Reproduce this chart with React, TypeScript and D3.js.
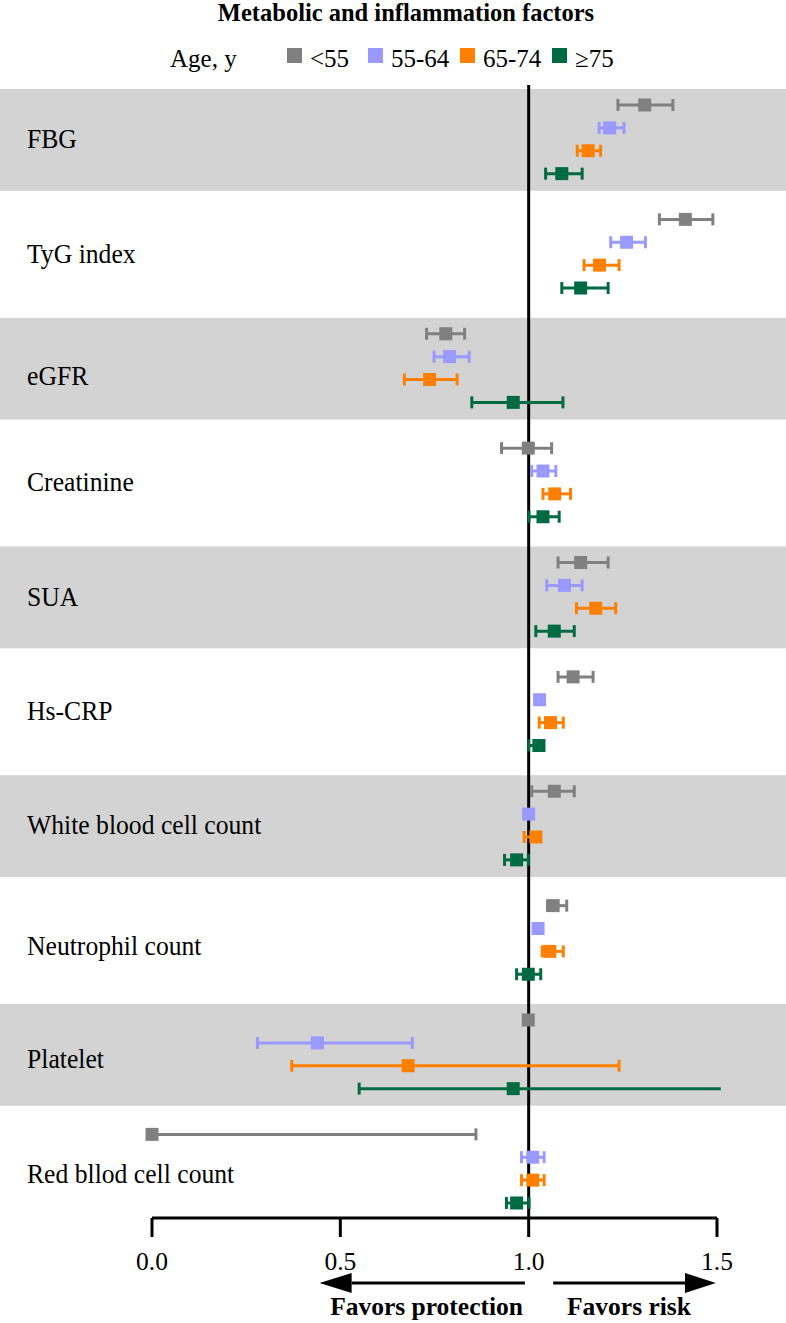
import React from "react";
import * as d3 from "d3";

const categories = [
  "FBG",
  "TyG index",
  "eGFR",
  "Creatinine",
  "SUA",
  "Hs-CRP",
  "White blood cell count",
  "Neutrophil count",
  "Platelet",
  "Red bllod cell count",
];

const ageGroups = ["<55", "55-64", "65-74", "≥75"];
const groupColors = ["#808080", "#9999ff", "#ff8000", "#006b42"];

// <55
const est55 = [1.308, 1.416, 0.78, 0.999, 1.138, 1.118, 1.068, 1.065, 0.999, 0.0];
const lo55 = [1.237, 1.347, 0.729, 0.928, 1.078, 1.078, 1.008, 1.05, 0.99, -0.2];
const hi55 = [1.383, 1.489, 0.83, 1.061, 1.211, 1.171, 1.121, 1.101, 1.01, 0.86];
// 55-64
const est5564 = [1.215, 1.26, 0.79, 1.038, 1.095, 1.029, 1.0, 1.025, 0.439, 1.011];
const lo5564 = [1.187, 1.218, 0.749, 1.008, 1.048, 1.02, 0.99, 1.015, 0.28, 0.981];
const hi5564 = [1.253, 1.31, 0.842, 1.072, 1.142, 1.04, 1.01, 1.035, 0.691, 1.041];
// 65-74
const est6574 = [1.158, 1.188, 0.737, 1.069, 1.178, 1.058, 1.019, 1.056, 0.68, 1.011];
const lo6574 = [1.129, 1.147, 0.67, 1.038, 1.127, 1.028, 0.988, 1.036, 0.371, 0.981];
const hi6574 = [1.191, 1.24, 0.81, 1.111, 1.231, 1.092, 1.03, 1.092, 1.24, 1.041];
// >=75
const est75 = [1.088, 1.138, 0.959, 1.038, 1.068, 1.027, 0.968, 0.999, 0.959, 0.968];
const lo75 = [1.045, 1.088, 0.849, 1.001, 1.019, 1.0, 0.936, 0.968, 0.55, 0.941];
const hi75 = [1.142, 1.211, 1.091, 1.081, 1.121, 1.04, 0.999, 1.032, 1.51, 1.001];

const xTicks = [0.0, 0.5, 1.0, 1.5];

const series = [
  { est: est55, lo: lo55, hi: hi55 },
  { est: est5564, lo: lo5564, hi: hi5564 },
  { est: est6574, lo: lo6574, hi: hi6574 },
  { est: est75, lo: lo75, hi: hi75 },
];

// layout: small vertical nudges of row labels (in slot units)
const labelNudge = [0, 0, 0.35, 0, 0, 0, 0, 0.25, 0.2, 0.25];

const W = 786;
const H = 1323;
const FONT = "'Liberation Serif', 'Times New Roman', serif";

export default function App() {
  const x = d3.scaleLinear().domain([0, 1.5]).range([152, 717]);
  const nSlots = categories.length * 5 - 2; // last index
  const y = d3.scaleLinear().domain([0, nSlots]).range([105, 1203]);
  const axisY = 1218;
  const sq = 13;
  const capH = 12;
  const clampLo = 0;
  const clampHi = 1.51;

  const rows = categories.map((c, r) => ({ c, r }));

  return (
    <svg
      width={W}
      height={H}
      style={{ position: "absolute", left: 0, top: 0, display: "block", background: "#fff" }}
      fontFamily={FONT}
    >
      {/* gray bands */}
      {rows
        .filter((d) => d.r % 2 === 0)
        .map((d) => (
          <rect
            key={"band" + d.r}
            x={0}
            width={W}
            y={y(d.r * 5 - 0.7)}
            height={y(d.r * 5 + 3.75) - y(d.r * 5 - 0.7)}
            fill="#d3d3d3"
          />
        ))}

      {/* title */}
      <text x={406} y={21} textAnchor="middle" fontSize={24.5} fontWeight="bold" fill="#000">
        Metabolic and inflammation factors
      </text>

      {/* legend */}
      <text x={170} y={67} fontSize={25} fill="#000">
        Age, y
      </text>
      {ageGroups.map((g, i) => {
        const lx = [287, 368, 460, 552][i];
        return (
          <g key={"leg" + i}>
            <rect x={lx} y={48} width={15} height={15} fill={groupColors[i]} />
            <text x={lx + 23} y={67} fontSize={25} fill="#000">
              {g}
            </text>
          </g>
        );
      })}

      {/* row labels */}
      {rows.map((d) => (
        <text
          key={"lab" + d.r}
          transform={`translate(27,${y(d.r * 5 + 1.5 + labelNudge[d.r])}) scale(0.95,1)`}
          dy="0.33em"
          fontSize={27}
          fill="#000"
        >
          {d.c}
        </text>
      ))}

      {/* reference line */}
      <line x1={x(1)} x2={x(1)} y1={85} y2={axisY} stroke="#000" strokeWidth={3} />

      {/* error bars and points */}
      {series.map((s, gi) =>
        categories.map((c, r) => {
          const yy = y(r * 5 + gi);
          const lo = s.lo[r];
          const hi = s.hi[r];
          const x1 = x(Math.max(lo, clampLo));
          const x2 = x(Math.min(hi, clampHi));
          const col = groupColors[gi];
          return (
            <g key={"pt" + gi + "-" + r}>
              <line x1={x1} x2={x2} y1={yy} y2={yy} stroke={col} strokeWidth={3} />
              {lo >= 0 && (
                <line x1={x(lo)} x2={x(lo)} y1={yy - capH / 2} y2={yy + capH / 2} stroke={col} strokeWidth={3} />
              )}
              {hi <= 1.5 && (
                <line x1={x(hi)} x2={x(hi)} y1={yy - capH / 2} y2={yy + capH / 2} stroke={col} strokeWidth={3} />
              )}
              <rect x={x(s.est[r]) - sq / 2} y={yy - sq / 2} width={sq} height={sq} fill={col} />
            </g>
          );
        })
      )}

      {/* x axis */}
      <line x1={x(0)} x2={x(1.5)} y1={axisY} y2={axisY} stroke="#000" strokeWidth={3} />
      {xTicks.map((t) => (
        <g key={"tick" + t}>
          <line x1={x(t)} x2={x(t)} y1={axisY} y2={axisY + 19} stroke="#000" strokeWidth={3} />
          <text x={x(t)} y={1270} textAnchor="middle" fontSize={25.5} fill="#000">
            {d3.format(".1f")(t)}
          </text>
        </g>
      ))}

      {/* arrows */}
      <line x1={x(0.99)} x2={x(0.53)} y1={1283} y2={1283} stroke="#000" strokeWidth={3} />
      <path d={`M${x(0.445)},1283 L${x(0.53)},1273 L${x(0.53)},1293 Z`} fill="#000" />
      <line x1={x(1.065)} x2={x(1.42)} y1={1283} y2={1283} stroke="#000" strokeWidth={3} />
      <path d={`M${x(1.497)},1283 L${x(1.415)},1273 L${x(1.415)},1293 Z`} fill="#000" />
      <text x={523} y={1315} textAnchor="end" fontSize={25.5} fontWeight="bold" fill="#000">
        Favors protection
      </text>
      <text x={567} y={1315} fontSize={25.5} fontWeight="bold" fill="#000">
        Favors risk
      </text>
    </svg>
  );
}
